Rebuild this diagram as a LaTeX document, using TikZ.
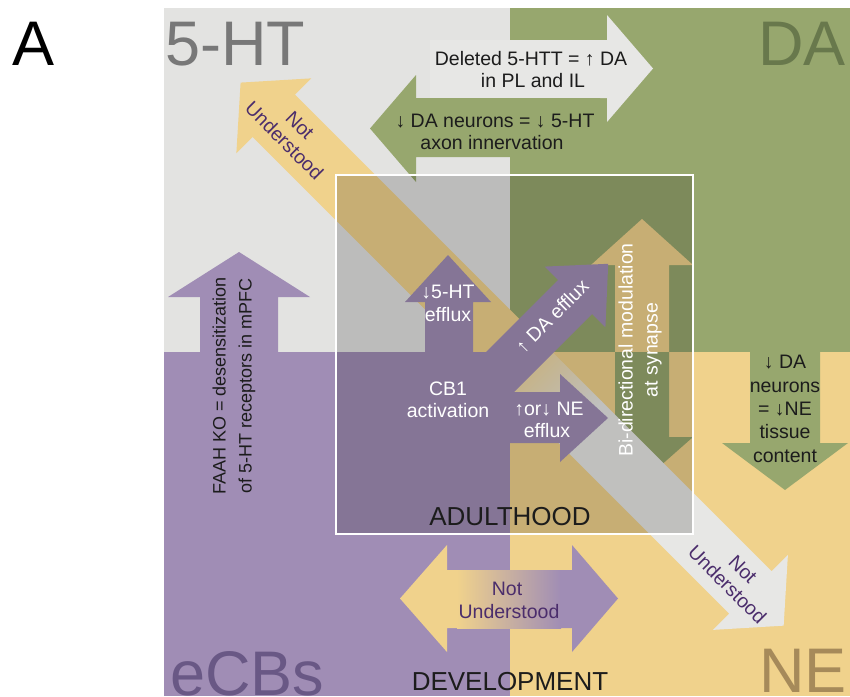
\documentclass[tikz,border=0pt]{standalone}
\usepackage{fontspec}
\setmainfont{Liberation Sans}
\definecolor{qgray}{RGB}{227,227,225}
\definecolor{qgreen}{RGB}{151,167,110}
\definecolor{qpurple}{RGB}{160,141,181}
\definecolor{qyellow}{RGB}{240,210,140}
\definecolor{awhite}{RGB}{231,231,229}
\definecolor{tgray}{RGB}{120,120,120}
\definecolor{tgreen}{RGB}{104,120,76}
\definecolor{tpurple}{RGB}{105,88,133}
\definecolor{tbrown}{RGB}{166,138,90}
\definecolor{tdark}{RGB}{75,45,108}
\definecolor{tblack}{RGB}{28,28,28}
\begin{document}
\begin{tikzpicture}[x=1pt,y=-1pt,
  lbl/.style={inner sep=0pt, font=\fontsize{19.5}{22}\selectfont},
  lblw/.style={lbl, text=white},
  lblk/.style={lbl, text=tblack},
  lbld/.style={lbl, text=tdark},
  big/.style={inner sep=0pt, font=\fontsize{63}{70}\selectfont},
  mid/.style={inner sep=0pt, font=\fontsize{26}{30}\selectfont, text=tblack}]
\useasboundingbox (0,0) rectangle (850,696);
\fill[white] (0,0) rectangle (850,696);
% quadrants
\fill[qgray] (164,8) rectangle (510,352);
\fill[qgreen] (510,8) rectangle (850,352);
\fill[qpurple] (164,352) rectangle (510,696);
\fill[qyellow] (510,352) rectangle (850,696);
% top arrows
\fill[awhite] (430,40) -- (607,40) -- (607,15) -- (653,68.5) -- (607,122) -- (607,98) -- (430,98) -- cycle;
\fill[qgreen] (600,98) -- (416,98) -- (416,75) -- (370,128.5) -- (416,182) -- (416,157) -- (600,157) -- cycle;
% FAAH arrow
\fill[qpurple] (200,380) -- (200,297) -- (168,297) -- (239,252) -- (310,297) -- (278,297) -- (278,380) -- cycle;
% right green down arrow
\fill[qgreen] (750,340) -- (820,340) -- (820,443) -- (848,443) -- (785,490) -- (722,443) -- (750,443) -- cycle;
% bottom double arrow
\fill[qyellow] (458,570) -- (447,570) -- (447,545) -- (400,598.5) -- (447,652) -- (447,628) -- (458,628) -- cycle;
\shade[left color=qyellow, right color=qpurple] (457,570) rectangle (561,628);
\fill[qpurple] (560,570) -- (572,570) -- (572,545) -- (618,598.5) -- (572,652) -- (572,628) -- (560,628) -- cycle;
% bidirectional arrow
\fill[qyellow] (615,353) -- (615,265) -- (591,265) -- (642,219) -- (693,265) -- (669,265) -- (669,353) -- cycle;
\fill[qgreen] (615,352) -- (669,352) -- (669,437) -- (693,437) -- (642,482) -- (591,437) -- (615,437) -- cycle;
% diagonal band
\begin{scope}[transform canvas={shift={(510,352)}, rotate=-45}]
  \fill[qyellow] (1,-30) -- (-334,-30) -- (-334,-53) -- (-381,0) -- (-334,53) -- (-334,30) -- (1,30) -- cycle;
  \shade[left color=qyellow, right color=awhite] (0,-30) rectangle (100,30);
  \fill[awhite] (99,-30) -- (340,-30) -- (340,-53) -- (387,0) -- (340,53) -- (340,30) -- (99,30) -- cycle;
\end{scope}
% purple centre
\fill[qpurple] (336,352) rectangle (510,534);
\fill[qpurple] (425,360) -- (425,302) -- (405,302) -- (448,255) -- (491,302) -- (473,302) -- (473,360) -- cycle;
\fill[qpurple] (444,394) -- (558,280) -- (544.6,266.6) -- (608.2,263.8) -- (605.4,327.4) -- (592,314) -- (478,428) -- cycle;
\fill[qpurple] (500,392) -- (560,392) -- (560,374) -- (608,418) -- (560,462) -- (560,443) -- (500,443) -- cycle;
% adulthood square
\fill[black, opacity=0.17] (336,175) rectangle (693,534);
\draw[white, line width=2pt] (336,175) rectangle (693,534);
% big labels
\node[big, text=black, anchor=base west] (lA) at (12,65) {A};
\node[big, text=tgray, anchor=base west] (lht) at (165,65) {5-HT};
\node[big, text=tgreen, anchor=base east] (lda) at (846,65) {DA};
\node[big, text=tpurple, anchor=base west] (lecb) at (170,695) {eCBs};
\node[big, text=tbrown, anchor=base east] (lne) at (847,692) {NE};
% top arrow texts
\node[lblk, anchor=base] (t1) at (531,65) {Deleted 5-HTT = ↑ DA};
\node[lblk, anchor=base] (t2) at (533,87) {in PL and IL};
\node[lblk, anchor=base] (t3) at (495,127) {↓ DA neurons = ↓ 5-HT};
\node[lblk, anchor=base] (t4) at (492,149) {axon innervation};
% diagonal texts
\node[lbld, align=center, rotate=-45] (nu1) at (292,133) {Not\\Understood};
\node[lbld, align=center, rotate=-45] (nu2) at (735,577) {Not\\Understood};
% FAAH
\node[lblk, align=center, rotate=90, font=\fontsize{18}{26}\selectfont] (faah) at (234,386) {FAAH KO = desensitization\\of 5-HT receptors in mPFC};
% centre texts
\node[lblw, anchor=base] (ht1) at (448,298) {↓5-HT};
\node[lblw, anchor=base] (ht2) at (448,321) {efflux};
\node[lblw, anchor=base] (cb1) at (448,395) {CB1};
\node[lblw, anchor=base] (cb2) at (448,417) {activation};
\node[lblw, anchor=base] (ne1) at (549,415) {↑or↓ NE};
\node[lblw, anchor=base] (ne2) at (547,437) {efflux};
\node[lblw, rotate=45] (da) at (552,316) {↑ DA efflux};
\node[lblw, align=center, rotate=90, font=\fontsize{19.5}{25}\selectfont] (bi) at (640,350) {Bi-directional modulation\\at synapse};
% right green arrow text
\node[lblk, anchor=base] (r1) at (785,368) {↓ DA};
\node[lblk, anchor=base] (r2) at (785,392) {neurons};
\node[lblk, anchor=base] (r3) at (785,415) {= ↓NE};
\node[lblk, anchor=base] (r4) at (785,438) {tissue};
\node[lblk, anchor=base] (r5) at (785,462) {content};
% bottom
\node[lbld, anchor=base] (nb1) at (507,595) {Not};
\node[lbld, anchor=base] (nb2) at (509,618) {Understood};
\node[mid, anchor=base] (adult) at (510,525) {ADULTHOOD};
\node[mid, anchor=base] (devel) at (510,690) {DEVELOPMENT};
\end{tikzpicture}
\end{document}
